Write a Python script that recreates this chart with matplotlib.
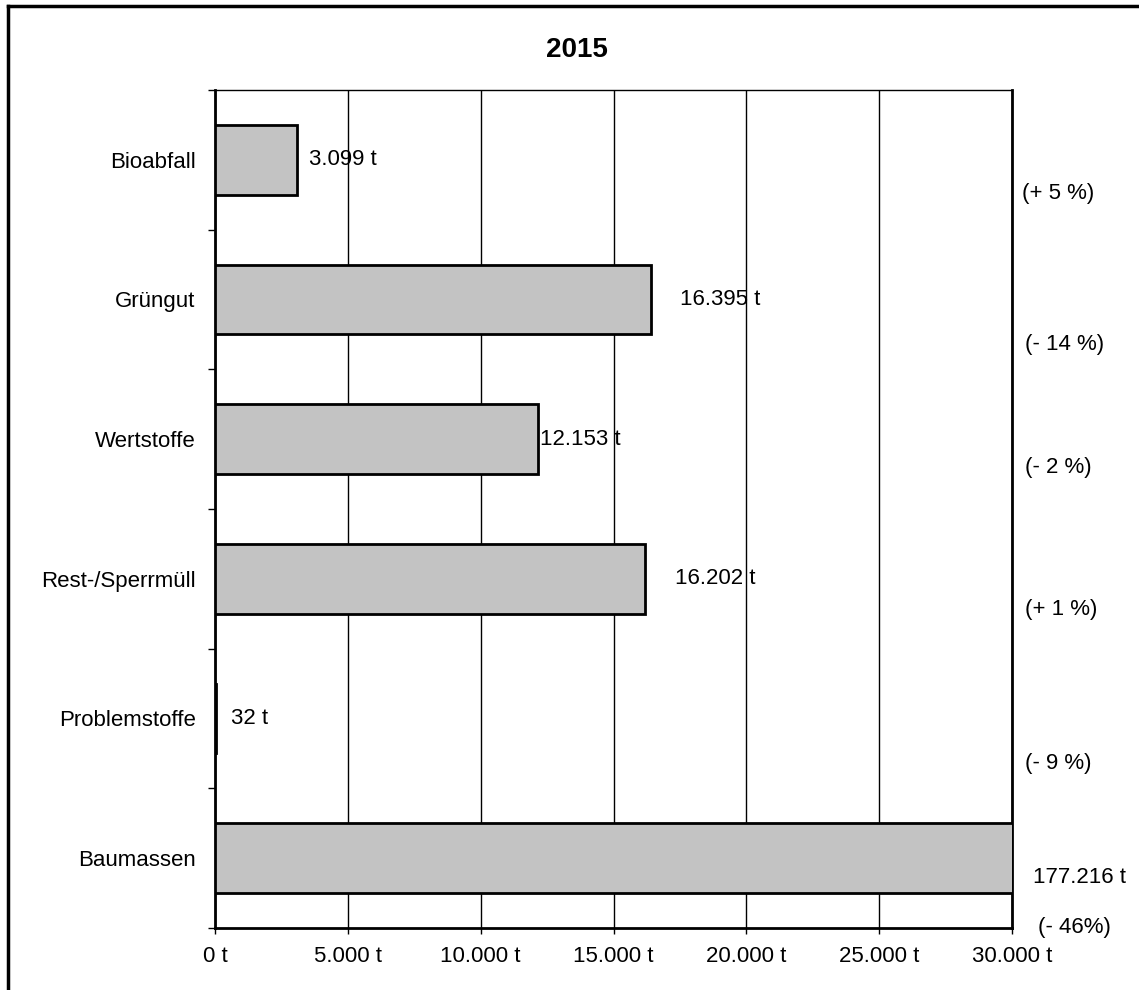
import matplotlib
matplotlib.use("Agg")
import matplotlib.pyplot as plt
from matplotlib.lines import Line2D

plt.rcParams['font.family'] = ['Liberation Sans', 'DejaVu Sans']

# data
categories = ["Bioabfall", "Grüngut", "Wertstoffe", "Rest-/Sperrmüll", "Problemstoffe", "Baumassen"]
tonnes = [3099, 16395, 12153, 16202, 32, 177216]
value_labels = ["3.099 t", "16.395 t", "12.153 t", "16.202 t", "32 t", "177.216 t"]
change_labels = ["(+ 5 %)", "(- 14 %)", "(- 2 %)", "(+ 1 %)", "(- 9 %)", "(- 46%)"]
x_ticks = [0, 5000, 10000, 15000, 20000, 25000, 30000]
x_ticklabels = ["0 t", "5.000 t", "10.000 t", "15.000 t", "20.000 t", "25.000 t", "30.000 t"]

# label placement (px offsets right of bar end / y shift of change labels)
label_dx = [12, 29, 2, 30, 15, 0]
change_dx = [10, 13, 13, 13, 13, 26]
change_dy = [0.24, 0.32, 0.2, 0.22, 0.32, 0.5]

FS = 16

fig = plt.figure(figsize=(11.39, 9.9), dpi=100)
ax = fig.add_axes([215/1139, 1-928/990, (1012-215)/1139, (928-90)/990])

ypos = list(range(len(categories)))
ax.barh(ypos, tonnes, height=0.5, color='#c3c3c3', edgecolor='black', linewidth=2, zorder=3)

ax.set_xlim(0, 30000)
ax.set_ylim(5.5, -0.5)
ax.set_xticks(x_ticks)
ax.set_xticklabels(x_ticklabels, fontsize=FS)
ax.xaxis.grid(True, color='black', linewidth=1, zorder=0)
ax.set_axisbelow(True)

# category labels without ticks, tick marks on band boundaries
ax.set_yticks(ypos)
ax.set_yticklabels(categories, fontsize=FS)
ax.tick_params(axis='y', length=0, pad=14)
ax.set_yticks([i + 0.5 for i in range(-1, len(categories))], minor=True)
ax.tick_params(axis='y', which='minor', length=5, width=1)
ax.tick_params(axis='x', length=4, width=1, pad=9)

for s in ax.spines.values():
    s.set_linewidth(2)
    s.set_color('black')
ax.spines['top'].set_linewidth(1)

for i, (v, lab) in enumerate(zip(tonnes, value_labels)):
    if v > 30000:
        ax.annotate(lab, xy=(1.0, i + 0.14), xycoords=('axes fraction', 'data'),
                    xytext=(21, 0), textcoords='offset pixels',
                    ha='left', va='center', fontsize=FS, clip_on=False)
    else:
        ax.annotate(lab, xy=(v, i), xytext=(label_dx[i], 0), textcoords='offset pixels',
                    ha='left', va='center', fontsize=FS, zorder=5)

for i, lab in enumerate(change_labels):
    ax.annotate(lab, xy=(1.0, i + change_dy[i]), xycoords=('axes fraction', 'data'),
                xytext=(change_dx[i], 0), textcoords='offset pixels',
                ha='left', va='center', fontsize=FS, clip_on=False)

fig.text(577/1139, 1-50/990, "2015", ha='center', va='center', fontsize=20, fontweight='bold')

# outer frame (left and top edges visible)
fig.add_artist(Line2D([8/1139, 8/1139], [0, 1-6/990], transform=fig.transFigure, color='black', linewidth=2.5))
fig.add_artist(Line2D([8/1139, 1], [1-6/990, 1-6/990], transform=fig.transFigure, color='black', linewidth=2.5))

fig.savefig("out.png", dpi=100)
